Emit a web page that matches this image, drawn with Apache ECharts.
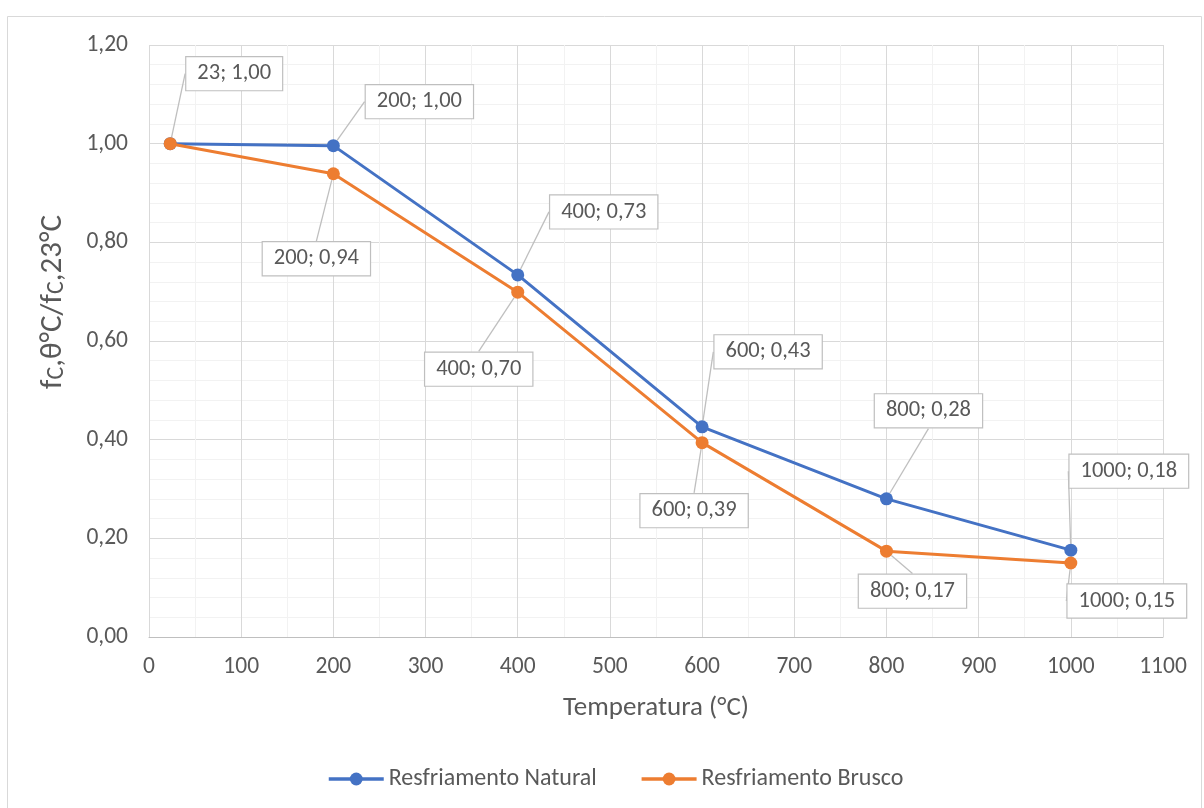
<!DOCTYPE html>
<html>
<head>
<meta charset="utf-8">
<script src="https://cdn.jsdelivr.net/npm/echarts@6/dist/echarts.min.js"></script>
<style>
  html, body { margin: 0; padding: 0; background: #fff; }
  #chart { width: 1204px; height: 808px; }
</style>
</head>
<body>
<div id="chart"></div>
<script>
// Temperatures (°C) and residual compressive strength ratios
const temperatures = [23, 200, 400, 600, 800, 1000];
const natural = [1.00, 0.996, 0.734, 0.426, 0.280, 0.176];
const brusco = [1.00, 0.939, 0.699, 0.394, 0.174, 0.150];
const seriesNames = ['Resfriamento Natural', 'Resfriamento Brusco'];
const xTicks = { min: 0, max: 1100, step: 100 };
const yTicks = { min: 0, max: 1.2, step: 0.2 };

// Callout displacement (px) of each data label from its point; null = no label
const naturalCallouts = [[64, -70], [86, -44], [86, -63], [66, -75], [42, -88], [58, -79]];
const bruscoCallouts = [null, [-17, 85], [-39, 77], [-8, 68], [26, 40], [56, 38]];

const FONT = 'Carlito, Lato, "Open Sans", sans-serif';
const TEXT = '#595959';

const fmt = v => v.toFixed(2).replace('.', ',');

function calloutSeries(name, vals, color, callouts, z) {
  return {
    name: name,
    type: 'line',
    data: temperatures.map((t, i) => ({
      value: [t, vals[i]],
      label: { show: !!callouts[i] },
      labelLine: { show: !!callouts[i] }
    })),
    symbol: 'circle',
    symbolSize: 13,
    lineStyle: { color: color, width: 3 },
    itemStyle: { color: color },
    z: z,
    label: {
      show: true,
      position: 'inside',
      formatter: p => p.value[0] + '; ' + fmt(p.value[1]),
      fontFamily: FONT,
      fontSize: 22.5,
      color: TEXT,
      backgroundColor: '#fff',
      borderColor: '#bfbfbf',
      borderWidth: 1.2,
      padding: [6, 11, 4, 11]
    },
    labelLine: {
      show: true,
      lineStyle: { color: '#bfbfbf', width: 1.3 }
    },
    labelLayout: p => {
      const c = callouts[p.dataIndex];
      return c ? { dx: c[0], dy: c[1] } : {};
    }
  };
}

const chart = echarts.init(document.getElementById('chart'), null, { renderer: 'canvas' });
chart.setOption({
  backgroundColor: '#fff',
  animation: false,
  textStyle: { fontFamily: FONT },
  graphic: [{
    type: 'rect',
    shape: { x: 7.5, y: 16.5, width: 1194, height: 800 },
    style: { fill: 'none', stroke: '#d9d9d9', lineWidth: 1 },
    silent: true,
    z: -10
  }],
  grid: { left: 149, right: 41, top: 45, bottom: 171 },
  xAxis: {
    type: 'value',
    min: xTicks.min, max: xTicks.max, interval: xTicks.step,
    name: 'Temperatura (°C)',
    nameLocation: 'middle',
    nameGap: 58,
    nameTextStyle: { fontFamily: FONT, fontSize: 27, color: TEXT },
    axisLine: { show: true, lineStyle: { color: '#bfbfbf', width: 1 } },
    axisTick: { show: false },
    axisLabel: { fontFamily: FONT, fontSize: 23.5, color: TEXT, margin: 18, formatter: v => String(v) },
    splitLine: { show: true, lineStyle: { color: '#d9d9d9', width: 1 } },
    minorTick: { show: false, splitNumber: 2 },
    minorSplitLine: { show: true, lineStyle: { color: '#f2f2f2', width: 1 } }
  },
  yAxis: {
    type: 'value',
    min: yTicks.min, max: yTicks.max, interval: yTicks.step,
    name: 'f{s|C},θ°C/f{s|C},23°C',
    nameLocation: 'middle',
    nameGap: 80,
    nameRotate: 90,
    nameTextStyle: {
      fontFamily: FONT, fontSize: 31, color: TEXT,
      padding: [0, 0, 0, 78],
      rich: { s: { fontFamily: FONT, fontSize: 24, color: TEXT, verticalAlign: 'bottom', padding: [8, 0, 0, 0] } }
    },
    axisLine: { show: false },
    axisTick: { show: false },
    axisLabel: { fontFamily: FONT, fontSize: 23.5, color: TEXT, margin: 21, formatter: v => fmt(v) },
    splitLine: { show: true, lineStyle: { color: '#d9d9d9', width: 1 } },
    minorTick: { show: false, splitNumber: 5 },
    minorSplitLine: { show: true, lineStyle: { color: '#f2f2f2', width: 1 } }
  },
  legend: {
    bottom: 12,
    left: 322,
    itemWidth: 55,
    itemHeight: 16,
    itemGap: 43,
    lineStyle: { width: 3.5 },
    textStyle: { fontFamily: FONT, fontSize: 24, color: TEXT },
    data: seriesNames
  },
  series: [
    calloutSeries(seriesNames[0], natural, '#4472C4', naturalCallouts, 3),
    calloutSeries(seriesNames[1], brusco, '#ED7D31', bruscoCallouts, 4)
  ]
});
</script>
</body>
</html>
